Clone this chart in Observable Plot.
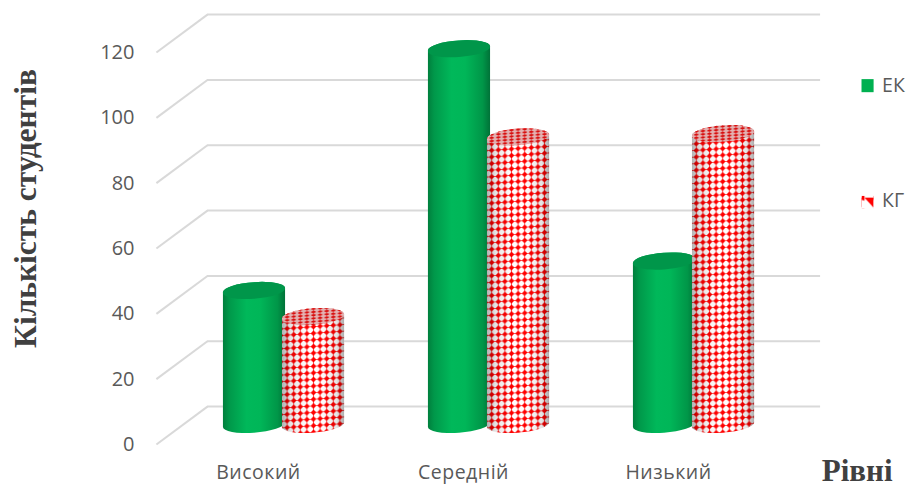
<!DOCTYPE html>
<html><head><meta charset="utf-8">
<script src="https://cdn.jsdelivr.net/npm/d3@7"></script>
<script src="https://cdn.jsdelivr.net/npm/@observablehq/plot@0.6"></script>
<style>html,body{margin:0;padding:0;background:#fff}svg{display:block}
[aria-label="x-axis tick label"] text{letter-spacing:.5px}</style>
</head><body><div id="chart"></div>
<script>
const categories = ["Високий", "Середній", "Низький"];
const seriesEK = [41, 115, 50];
const seriesKG = [33, 88, 89];
const yTicks = [0, 20, 40, 60, 80, 100, 120];
const seriesNames = ["ЕК", "КГ"];

// the pseudo-3D chart: floor depth and cylinder placement, in data units
const depth = 11.6, base = 6, capHalf = 2.55, halfW = 31;
const ek = categories.map((c, i) => ({i, v: seriesEK[i], a: i - 0.293, b: i + 0.01}));
const kg = categories.map((c, i) => ({i, v: seriesKG[i], a: i - 0.005, b: i + 0.298}));

function defs() {
  const d = d3.create("svg:defs");
  const grad = (id, stops) => {
    const g = d.append("linearGradient").attr("id", id);
    stops.forEach(([o, c, a]) => g.append("stop").attr("offset", o).attr("stop-color", c).attr("stop-opacity", a ?? 1));
  };
  grad("greenBody", [[0, "#007f3d"], [.1, "#00984a"], [.38, "#00b85a"], [.6, "#00b658"], [.88, "#009648"], [1, "#007238"]]);
  grad("shade", [[0, "#000", .3], [.14, "#000", .1], [.42, "#000", 0], [.62, "#000", 0], [.88, "#000", .1], [1, "#000", .32]]);
  const p = d.append("pattern").attr("id", "kgDots").attr("patternUnits", "userSpaceOnUse").attr("width", 6.6).attr("height", 6.6);
  p.append("rect").attr("width", 6.6).attr("height", 6.6).attr("fill", "#fff");
  p.append("path").attr("d", "M0 3.3H6.6M3.3 0V6.6").attr("stroke", "#ff7f7f").attr("stroke-width", 1.1);
  p.append("path").attr("d", "M3.3 .2L4.6 2L6.4 3.3L4.6 4.6L3.3 6.4L2 4.6L.2 3.3L2 2Z").attr("fill", "#f00");
  const t = d.append("pattern").attr("id", "kgTop").attr("patternUnits", "userSpaceOnUse").attr("width", 6.6).attr("height", 3.2);
  t.append("rect").attr("width", 6.6).attr("height", 3.2).attr("fill", "#e3b4b4");
  t.append("path").attr("d", "M3.3 .2L6.2 1.6L3.3 3L.4 1.6Z").attr("fill", "#d80f0f");
  const l = d.append("pattern").attr("id", "kgKey").attr("patternUnits", "objectBoundingBox").attr("width", 1).attr("height", 1);
  l.append("rect").attr("width", 14).attr("height", 14).attr("fill", "#fff");
  l.append("path").attr("d", "M3 2H14V14Z").attr("fill", "#f00");
  l.append("path").attr("d", "M0 0H3V5L0 4Z").attr("fill", "#f00");
  return d.node();
}

const skew = (i, s, v, dim, c, next) => {
  const g = next(i, s, v, dim, c);
  d3.select(g).selectAll("rect").attr("transform", function () {
    const cx = +this.getAttribute("x") + +this.getAttribute("width") / 2;
    const cy = +this.getAttribute("y") + +this.getAttribute("height") / 2;
    return `translate(${cx},${cy}) skewY(-4) translate(${-cx},${-cy})`;
  });
  return g;
};

const body = (data, fill) => Plot.rect(data, {x1: "a", x2: "b", y1: () => base - capHalf, y2: d => base + d.v + capHalf,
  fill, rx: halfW, ry: 8, render: skew});
const cap = (data, fill) => Plot.rect(data, {x1: "a", x2: "b", y1: d => base + d.v - capHalf, y2: d => base + d.v + capHalf,
  fill, rx: halfW, ry: 8, render: skew});

const plot = Plot.plot({
  width: 908, height: 486,
  marginLeft: 145, marginRight: 0, marginTop: 0, marginBottom: 22,
  style: {background: "#fff", fontFamily: "'Open Sans', sans-serif"},
  x: {type: "linear", domain: [-0.6732, 3.0488], axis: null},
  y: {domain: [0, 120], range: [444, 52], axis: null},
  marks: [
    defs,
    Plot.ruleY(yTicks, {y: d => d + depth, x1: -0.371, x2: 2.62, stroke: "#d9d9d9", strokeWidth: 2}),
    Plot.link(yTicks, {x1: -0.62, x2: -0.371, y1: d => d, y2: d => d + depth, stroke: "#d9d9d9", strokeWidth: 2}),
    Plot.axisY({ticks: yTicks, tickSize: 0, tickPadding: 11, label: null, fontSize: 20, color: "#595959", stroke: "none"}),
    Plot.axisX({ticks: categories.map((c, i) => i - 0.122), tickFormat: (d, i) => categories[i], tickSize: 0, tickPadding: 1,
      label: null, fontSize: 19.5, color: "#595959", stroke: "none", anchor: "bottom"}),
    body(ek, "url(#greenBody)"),
    cap(ek, "#00964a"),
    body(kg, "url(#kgDots)"),
    body(kg, "url(#shade)"),
    cap(kg, "url(#kgTop)"),
    Plot.text(["Кількість студентів"], {frameAnchor: "left", rotate: -90, dx: -120, dy: -24, textAnchor: "middle",
      fontFamily: "'Liberation Serif', serif", fontWeight: "bold", fontSize: 31.5, fill: "#404040"}),
    Plot.text(["Рівні"], {frameAnchor: "bottom-right", dx: -16, dy: 16, textAnchor: "end",
      fontFamily: "'Liberation Serif', serif", fontWeight: "bold", fontSize: 31, fill: "#404040"}),
    Plot.rect(seriesNames, {x1: 2.822, x2: 2.881, y1: (d, i) => i ? 76 : 111.7, y2: (d, i) => i ? 72.2 : 107.7,
      fill: (d, i) => i ? "url(#kgKey)" : "#00b050"}),
    Plot.text(seriesNames, {x: 2.92, y: (d, i) => i ? 74.6 : 109.7, text: d => d, textAnchor: "start",
      fontSize: 19.5, fill: "#595959"})
  ]
});
document.getElementById("chart").append(plot);
</script></body></html>
